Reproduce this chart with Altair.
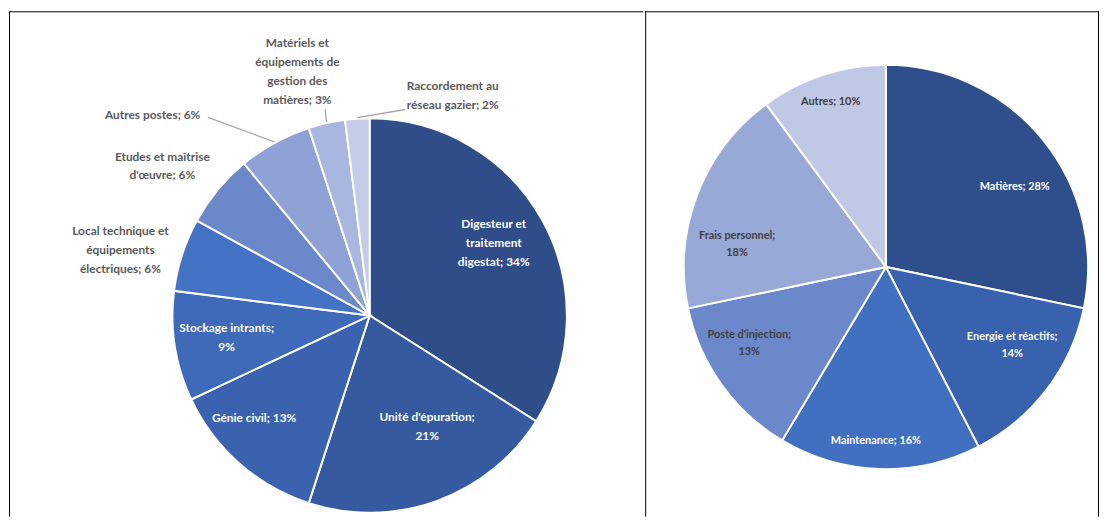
import altair as alt
import pandas as pd
import numpy as np

# ---------------- data ----------------
left_categories = [
    "Digesteur et traitement digestat", "Unité d'épuration", "Génie civil",
    "Stockage intrants", "Local technique et équipements électriques",
    "Etudes et maîtrise d'œuvre", "Autres postes",
    "Matériels et équipements de gestion des matières",
    "Raccordement au réseau gazier",
]
left_labels = [
    "Digesteur et\ntraitement\ndigestat; 34%", "Unité d'épuration;\n21%",
    "Génie civil; 13%", "Stockage intrants;\n9%",
    "Local technique et\néquipements\nélectriques; 6%",
    "Etudes et maîtrise\nd'œuvre; 6%", "Autres postes; 6%",
    "Matériels et\néquipements de\ngestion des\nmatières; 3%",
    "Raccordement au\nréseau gazier; 2%",
]
left_values = [34, 21, 13, 9, 6, 6, 6, 3, 2]

right_categories = ["Matières", "Energie et réactifs", "Maintenance",
                    "Poste d'injection", "Frais personnel", "Autres"]
right_labels = ["Matières; 28%", "Energie et réactifs;\n14%", "Maintenance; 16%",
                "Poste d'injection;\n13%", "Frais personnel;\n18%", "Autres; 10%"]
right_values = [28, 14, 16, 13, 18, 10]

# ---------------- style / layout ----------------
left_colors = ["#2F4D88", "#355AA0", "#3A62AF", "#3F6AB9", "#4472C4",
               "#6B88CA", "#8FA2D5", "#A9B6DF", "#C4CCE8"]
right_colors = ["#2F4F8C", "#3861AE", "#4170C0", "#6B88CA", "#98A9D7", "#BFC9E6"]

H = 500
FONT = "Lato"

left_layout = dict(
    W=640, cx=364, cy=307, R=199,
    shift=[-1.5, -7.6, 7.0, 0.3, -3.3, -3.8, -18.5, -3.9, 24.3],
    dist=[145, 126, 156, 146, 260, 258, 298, 257, 237],
    white=[True, True, True, True, False, False, False, False, False],
    dark="#595959", fs=12, lh=19,
    leaders={6: (-10.4, 258), 7: (0.4, 213), 8: (13.4, 211)},
    right_border=False,
)
right_layout = dict(
    W=458, cx=243, cy=258, R=204,
    shift=[7.2, -5.4, 1.5, 6.3, -12.2, -0.3],
    dist=[153, 150, 176, 158, 152, 176],
    white=[True, True, True, False, False, False],
    dark="#404040", fs=11, lh=17,
    leaders={},
    right_border=True,
)


def panel(cats, labels, values, colors, L):
    W, cx, cy, R = L["W"], L["cx"], L["cy"], L["R"]
    vals = np.array(values, dtype=float)
    cum = np.cumsum(vals)
    start = cum - vals
    mid = (start + cum) / 2 / vals.sum() * 360.0
    ang = np.radians(mid + np.array(L["shift"]))
    dist = np.array(L["dist"], dtype=float)
    nlines = np.array([lab.count("\n") + 1 for lab in labels])
    df = pd.DataFrame({
        "cat": cats, "value": values, "idx": list(range(len(cats))),
        "label": labels,
        "lx": cx + dist * np.sin(ang),
        # first line is anchored; move it up so the block is centred
        "ly": cy - dist * np.cos(ang) - (nlines - 1) / 2.0 * L["lh"],
        "white": L["white"],
    })
    xs = alt.Scale(domain=[0, W], nice=False, zero=False)
    ys = alt.Scale(domain=[0, H], nice=False, zero=False, reverse=True)
    dummy = pd.DataFrame({"d": [0]})

    layers = [
        alt.Chart(dummy).mark_rule(color="#000000", strokeWidth=1).encode(
            x=alt.value(0), x2=alt.value(W), y=alt.value(0.5)),
        alt.Chart(dummy).mark_rule(color="#000000", strokeWidth=1).encode(
            x=alt.value(0.5), y=alt.value(0), y2=alt.value(H + 10)),
    ]
    if L["right_border"]:
        layers.append(alt.Chart(dummy).mark_rule(color="#000000", strokeWidth=1).encode(
            x=alt.value(W - 0.5), y=alt.value(0), y2=alt.value(H + 10)))

    arcs = alt.Chart(df).mark_arc(radius=R, stroke="white", strokeWidth=2).encode(
        theta=alt.Theta("value:Q", stack=True),
        color=alt.Color("cat:N", scale=alt.Scale(domain=cats, range=colors), legend=None),
        order=alt.Order("idx:Q"),
        x=alt.value(cx), y=alt.value(cy),
    )
    layers.append(arcs)

    if L["leaders"]:
        rows = []
        for i, (sh, d) in L["leaders"].items():
            a0 = np.radians(mid[i])
            a1 = np.radians(mid[i] + sh)
            rows.append({
                "x": cx + (R + 1) * np.sin(a0), "y": cy - (R + 1) * np.cos(a0),
                "x2": cx + d * np.sin(a1), "y2": cy - d * np.cos(a1),
            })
        ld = pd.DataFrame(rows)
        layers.append(alt.Chart(ld).mark_rule(color="#A6A6A6", strokeWidth=1.3).encode(
            x=alt.X("x:Q", scale=xs, axis=None), y=alt.Y("y:Q", scale=ys, axis=None),
            x2="x2:Q", y2="y2:Q"))

    for is_white, col in [(True, "#FFFFFF"), (False, L["dark"])]:
        sub = df[df["white"] == is_white]
        if len(sub) == 0:
            continue
        layers.append(alt.Chart(sub).mark_text(
            font=FONT, fontWeight="bold", fontSize=L["fs"], lineHeight=L["lh"],
            lineBreak="\n", color=col, align="center", baseline="middle",
        ).encode(
            x=alt.X("lx:Q", scale=xs, axis=None),
            y=alt.Y("ly:Q", scale=ys, axis=None),
            text="label:N",
        ))

    return alt.layer(*layers).properties(width=W, height=H)


left = panel(left_categories, left_labels, left_values, left_colors, left_layout)
right = panel(right_categories, right_labels, right_values, right_colors, right_layout)

chart = alt.hconcat(left, right, spacing=0).resolve_scale(
    color="independent", theta="independent", x="independent", y="independent",
).properties(
    padding={"left": 0, "top": 0, "right": 0, "bottom": 0},
    background="white",
).configure_view(stroke=None)

chart.save("out.html", embed_options={"renderer": "svg", "actions": False})
